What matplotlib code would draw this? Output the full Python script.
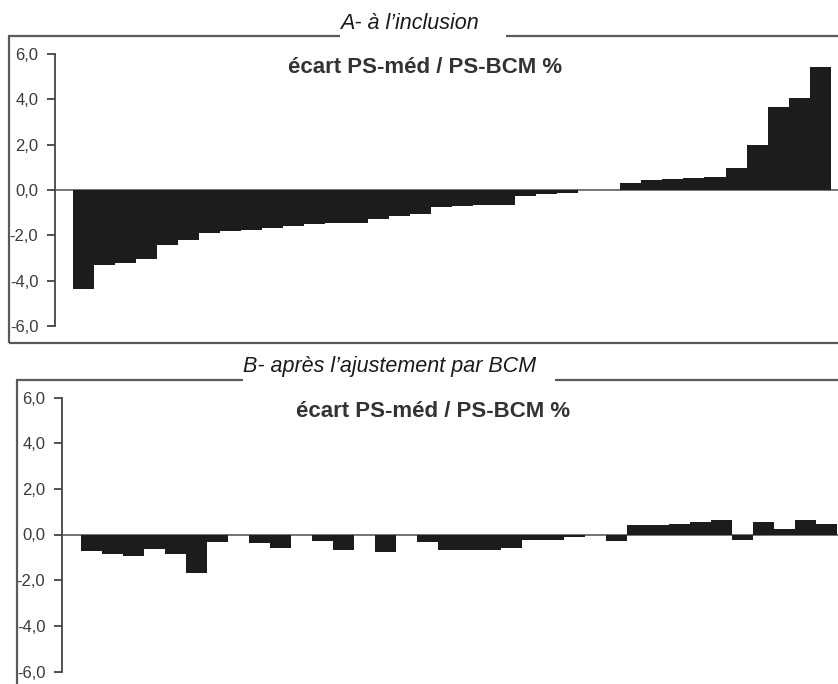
import matplotlib
matplotlib.use('Agg')
from matplotlib import pyplot as plt
from matplotlib.patches import Rectangle

plt.rcParams['font.family'] = ['Liberation Sans', 'DejaVu Sans']

# écart PS-méd / PS-BCM % pour chaque patient
inclusion = [-4.38, -3.32, -3.23, -3.06, -2.43, -2.22, -1.91, -1.82, -1.76,
             -1.69, -1.60, -1.49, -1.47, -1.45, -1.29, -1.15, -1.07, -0.75,
             -0.70, -0.68, -0.66, -0.26, -0.19, -0.12, 0.0, 0.0, 0.33, 0.43,
             0.47, 0.55, 0.56, 0.99, 1.97, 3.66, 4.04, 5.43]
ajuste = [-0.73, -0.87, -0.93, -0.65, -0.87, -1.69, -0.33, 0.0, -0.39,
          -0.60, 0.0, -0.30, -0.70, 0.0, -0.77, 0.0, -0.33, -0.70, -0.70,
          -0.68, -0.60, -0.24, -0.22, -0.10, 0.0, -0.30, 0.41, 0.41, 0.47,
          0.56, 0.64, -0.22, 0.56, 0.25, 0.64, 0.47]
yticks = [6, 4, 2, 0, -2, -4, -6]
titre_a = 'A- à l\u2019inclusion'
titre_b = 'B- après l\u2019ajustement par BCM'
titre_axe = 'écart PS-méd / PS-BCM %'

W, H = 838, 684
fig = plt.figure(figsize=(W / 100, H / 100), dpi=100)


def fx(x):
    return x / W


def fy(y):
    return 1 - y / H


def panel(vals, left, top, bottom, xlim, frame, gap, title, title_y, label_x, label_y):
    ax = fig.add_axes([fx(left), fy(bottom), fx(W - left), (bottom - top) / H])
    ax.patch.set_alpha(0)
    ax.bar(range(len(vals)), vals, width=1, align='edge', color='#1c1c1c', linewidth=0)
    ax.axhline(0, color='#6a6a6a', lw=1.3, zorder=0)
    ax.set_xlim(*xlim)
    ax.set_ylim(-6, 6)
    for s in ['top', 'right', 'bottom']:
        ax.spines[s].set_visible(False)
    ax.spines['left'].set_color('#444444')
    ax.spines['left'].set_linewidth(1.3)
    ax.set_xticks([])
    ax.set_yticks(yticks)
    ax.set_yticklabels([('%.1f' % v).replace('.', ',') for v in yticks])
    ax.tick_params(axis='y', direction='out', length=6, width=1.3, color='#444444',
                   labelsize=12, labelcolor='#3a3a3a', pad=6)

    # cadre du panneau
    x0, y0, x1, y1 = frame
    fig.patches.append(Rectangle((fx(x0), fy(y1)), fx(x1 - x0), (y1 - y0) / H,
                                 transform=fig.transFigure, fill=False,
                                 edgecolor='#5a5a5a', lw=1.6, zorder=1))
    g0, g1 = gap
    fig.patches.append(Rectangle((fx(g0), fy(y0 + 4)), fx(g1 - g0), 8 / H,
                                 transform=fig.transFigure, facecolor='white',
                                 edgecolor='none', zorder=2))
    fig.text(fx(g0), fy(title_y), title, fontsize=15.5, style='italic',
             color='#1a1a1a', ha='left', va='baseline', zorder=3)
    fig.text(fx(label_x), fy(label_y), titre_axe, fontsize=16, weight='bold',
             color='#333333', ha='center', va='baseline', zorder=3)
    return ax


panel(inclusion, 55, 54, 326, (-0.84, 36.34), (9, 36, 860, 343), (340, 506),
      titre_a, 29, 425, 73)
panel(ajuste, 62, 397.5, 671.5, (-0.9, 36.05), (17, 380, 860, 700), (243, 555),
      titre_b, 372, 433, 417)

fig.savefig('out.png', dpi=100)
